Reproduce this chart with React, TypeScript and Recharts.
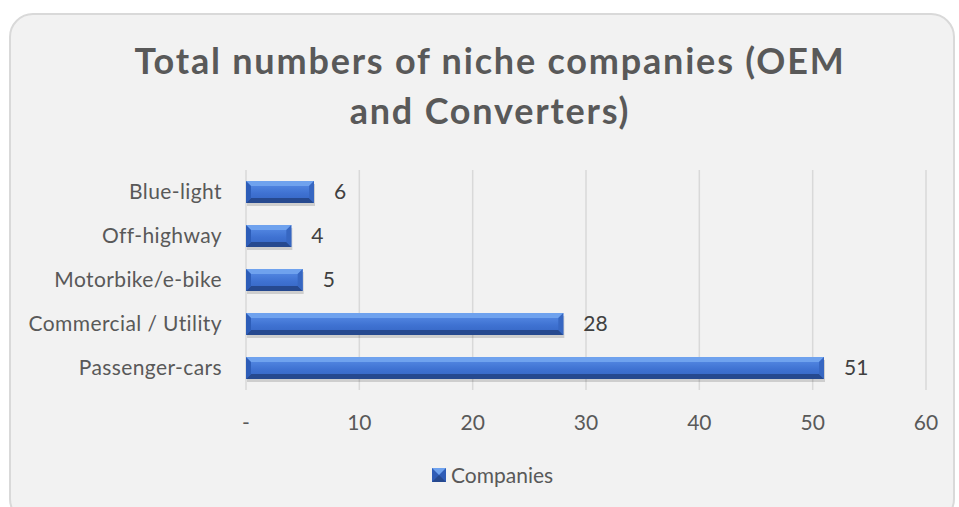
import { BarChart, Bar, XAxis, YAxis, CartesianGrid, LabelList } from 'recharts';

const categories = ['Blue-light', 'Off-highway', 'Motorbike/e-bike', 'Commercial / Utility', 'Passenger-cars'];
const companies = [6, 4, 5, 28, 51];
const xTicks = [0, 10, 20, 30, 40, 50, 60];

const data = categories.map((name, i) => ({ name, companies: companies[i] }));

const FONT = 'Lato, "Open Sans", sans-serif';
const TEXT = '#595959';

// bevelled bar, similar to the office "3D" preset
function BevelBar(props: any) {
  let x = Number(props.x);
  let y = Number(props.y);
  let w = Number(props.width);
  let h = Number(props.height);
  if (!isFinite(x) || !isFinite(y) || !isFinite(w) || !isFinite(h)) return null;
  if (w < 0) { x += w; w = -w; }
  if (h < 0) { y += h; h = -h; }
  if (w === 0 || h === 0) return null;
  const b = Math.min(5, w / 2, h / 4);
  const r = x + w;
  const btm = y + h;
  return (
    <g>
      <rect x={x + 1} y={y + 3} width={w} height={h} fill="rgba(0,0,0,0.15)" />
      <rect x={x} y={y} width={w} height={h} fill="url(#barFace)" />
      <polygon points={`${x},${y} ${r},${y} ${r - b},${y + b} ${x + b},${y + b}`} fill="#6fa2ee" />
      <polygon points={`${x},${btm} ${r},${btm} ${r - b},${btm - b} ${x + b},${btm - b}`} fill="#26498f" />
      <polygon points={`${x},${y} ${x + b},${y + b} ${x + b},${btm - b} ${x},${btm}`} fill="#2d5db8" />
      <polygon points={`${r},${y} ${r - b},${y + b} ${r - b},${btm - b} ${r},${btm}`} fill="#3767c2" />
    </g>
  );
}

export default function App() {
  return (
    <div style={{ position: 'absolute', left: 0, top: 0, width: 959, height: 507, background: '#ffffff', overflow: 'hidden' }}>
      <svg width={0} height={0} style={{ position: 'absolute' }}>
        <defs>
          <linearGradient id="barFace" x1="0" y1="0" x2="0" y2="1">
            <stop offset="0%" stopColor="#5a8fe8" />
            <stop offset="55%" stopColor="#3f72d2" />
            <stop offset="100%" stopColor="#3464c2" />
          </linearGradient>
        </defs>
      </svg>
      <div
        style={{
          position: 'absolute',
          left: 9,
          top: 13,
          width: 946,
          height: 510,
          background: '#f2f2f2',
          border: '2px solid #d9d9d9',
          borderRadius: 24,
          boxSizing: 'border-box',
        }}
      />
      <div
        style={{
          position: 'absolute',
          left: 17,
          top: 35,
          width: 946,
          textAlign: 'center',
          fontFamily: FONT,
          fontWeight: 700,
          fontSize: 36,
          letterSpacing: 1.8,
          lineHeight: '50px',
          color: TEXT,
        }}
      >
        Total numbers of niche companies (OEM
        <br />
        and Converters)
      </div>
      <div style={{ position: 'absolute', left: 0, top: 0 }}>
        <BarChart
          width={959}
          height={507}
          data={data}
          layout="vertical"
          margin={{ top: 170, right: 33, bottom: 0, left: 0 }}
          barSize={22}
        >
          <CartesianGrid stroke="#d9d9d9" strokeWidth={1.5} horizontal={false} />
          <XAxis
            type="number"
            domain={[0, 60]}
            ticks={xTicks}
            axisLine={false}
            tickLine={false}
            tickFormatter={(v: number) => (v === 0 ? '-' : String(v))}
            tick={{ fill: TEXT, fontSize: 21, fontFamily: FONT }}
            tickMargin={19}
            height={117}
            interval={0}
          />
          <YAxis
            type="category"
            dataKey="name"
            width={246}
            axisLine={false}
            tickLine={false}
            tick={{ fill: TEXT, fontSize: 21, fontFamily: FONT, letterSpacing: 0.4 }}
            tickMargin={18}
            interval={0}
          />
          <Bar dataKey="companies" name="Companies" shape={<BevelBar />} isAnimationActive={false}>
            <LabelList
              dataKey="companies"
              position="right"
              offset={20}
              style={{ fill: '#404040', fontSize: 21, fontFamily: FONT }}
            />
          </Bar>
        </BarChart>
      </div>
      <div
        style={{
          position: 'absolute',
          left: 432,
          top: 462,
          display: 'flex',
          alignItems: 'center',
          fontFamily: FONT,
          fontSize: 21,
          color: TEXT,
        }}
      >
        <svg width={14} height={14} style={{ marginRight: 5 }}>
          <rect x={0} y={0} width={14} height={14} fill="#2f5cb6" />
          <polygon points="0,0 14,0 7,7" fill="#6fa2ee" />
          <polygon points="0,14 14,14 7,7" fill="#26498f" />
        </svg>
        <span>Companies</span>
      </div>
    </div>
  );
}
